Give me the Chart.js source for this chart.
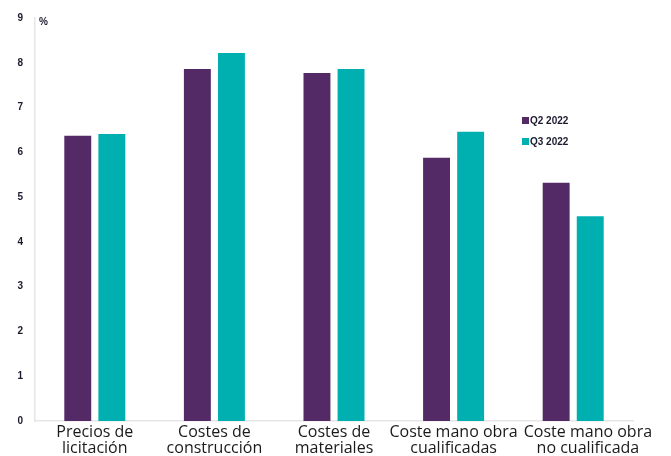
<!DOCTYPE html>
<html>
<head>
<meta charset="utf-8">
<script src="https://cdn.jsdelivr.net/npm/chart.js@4.4.1/dist/chart.umd.min.js"></script>
<style>
html,body{margin:0;padding:0;background:#fff;}
#wrap{width:671px;height:456px;position:relative;}
</style>
</head>
<body>
<div id="wrap"><canvas id="c" width="671" height="456"></canvas></div>
<script>
const categories = [
  ["Precios de", "licitación"],
  ["Costes de", "construcción"],
  ["Costes de", "materiales"],
  ["Coste mano obra", "cualificadas"],
  ["Coste mano obra", "no cualificada"]
];
const seriesNames = ["Q2 2022", "Q3 2022"];
const q2Values = [6.37, 7.86, 7.77, 5.88, 5.32];
const q3Values = [6.41, 8.22, 7.86, 6.46, 4.57];
const yTicks = [0, 1, 2, 3, 4, 5, 6, 7, 8, 9];
const unitLabel = "%";

const colors = ["#532a66", "#00b0b0"];

const customLegend = {
  id: 'customLegend',
  afterDraw(chart) {
    const ctx = chart.ctx;
    ctx.save();
    ctx.font = 'bold 10px "Liberation Sans", Arial, sans-serif';
    ctx.textBaseline = 'middle';
    chart.data.datasets.forEach((ds, i) => {
      const y = 121 + i * 21;
      ctx.fillStyle = ds.backgroundColor;
      ctx.fillRect(522, y - 4, 7, 7);
      ctx.fillStyle = '#1a1a2e';
      ctx.fillText(ds.label, 530, y);
    });
    ctx.fillStyle = '#1a1a2e';
    ctx.fillText(unitLabel, 39, 22);
    ctx.restore();
  }
};

// Category labels drawn from the x scale, nudging a label right if it would collide with the previous one
const categoryLabels = {
  id: 'categoryLabels',
  afterDraw(chart) {
    const ctx = chart.ctx;
    const xs = chart.scales.x;
    ctx.save();
    ctx.font = '16px "Open Sans", sans-serif';
    ctx.fillStyle = '#1a1a1a';
    ctx.textAlign = 'center';
    ctx.textBaseline = 'middle';
    let prevRight = -Infinity;
    chart.data.labels.forEach((lines, i) => {
      const w = Math.max(...lines.map(t => ctx.measureText(t).width));
      let cx = xs.getPixelForTick(i);
      if (cx - w / 2 < prevRight + 6) cx = prevRight + 6 + w / 2;
      prevRight = cx + w / 2;
      lines.forEach((t, k) => ctx.fillText(t, cx, xs.top + 11 + k * 16));
    });
    ctx.restore();
  }
};

new Chart(document.getElementById('c'), {
  type: 'bar',
  data: {
    labels: categories,
    datasets: [
      { label: seriesNames[0], data: q2Values, backgroundColor: colors[0] },
      { label: seriesNames[1], data: q3Values, backgroundColor: colors[1] }
    ]
  },
  options: {
    responsive: false,
    animation: false,
    devicePixelRatio: 1,
    categoryPercentage: 0.57,
    barPercentage: 0.79,
    layout: { padding: { top: 16, right: 38, left: 0, bottom: 0 } },
    plugins: { legend: { display: false }, tooltip: { enabled: false } },
    scales: {
      x: {
        grid: { display: false, drawTicks: false },
        border: { display: true, color: '#e6e6e6', width: 1.5 },
        ticks: { display: false },
        afterFit(scale) { scale.height = 35; }
      },
      y: {
        min: 0, max: 9,
        afterBuildTicks(scale) { scale.ticks = yTicks.map(v => ({ value: v })); },
        grid: { display: false, drawTicks: false },
        border: { display: true, color: '#e6e6e6', width: 1.5 },
        ticks: {
          color: '#1a1a2e',
          font: { family: '"Liberation Sans", Arial, sans-serif', size: 10, weight: 'bold' },
          padding: 12
        },
        afterFit(scale) { scale.width = 35; }
      }
    }
  },
  plugins: [customLegend, categoryLabels]
});
</script>
</body>
</html>
